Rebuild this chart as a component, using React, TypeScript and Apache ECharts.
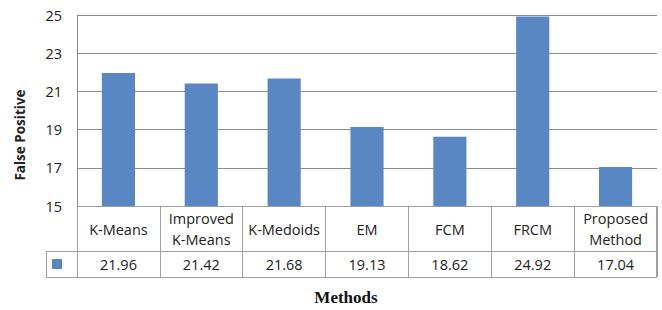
import React, { useEffect, useRef } from "react";
import * as echarts from "echarts";

const categories = ["K-Means", "Improved\nK-Means", "K-Medoids", "EM", "FCM", "FRCM", "Proposed\nMethod"];
const falsePositive = [21.96, 21.42, 21.68, 19.13, 18.62, 24.92, 17.04];
const yTicks = { min: 15, max: 25, interval: 2 };
const yTitle = "False Positive";
const xTitle = "Methods";

const BAR = "#5987C3";
const LINE = "#8C8C8C";
const TABLE = "#A0A0A0";
const FONT = "'Open Sans', 'Noto Sans', sans-serif";
const FS = 14.5;

export default function App() {
  const ref = useRef<HTMLDivElement>(null);
  useEffect(() => {
    if (!ref.current) return;
    const chart = echarts.init(ref.current, null, { renderer: "svg" });
    const L = 77, R = 5, T = 15, B = 206, TB = 277;
    chart.setOption({
      animation: false,
      backgroundColor: "#fff",
      grid: [
        { left: L, right: R, top: T, height: B - T },
        { left: L, right: R, top: B, height: TB - B },
      ],
      xAxis: [
        {
          type: "category",
          gridIndex: 0,
          data: categories,
          axisLine: { show: true, lineStyle: { color: TABLE, width: 1 } },
          axisTick: { show: false },
          axisLabel: {
            margin: 23,
            verticalAlign: "middle",
            lineHeight: 21,
            fontFamily: FONT,
            fontSize: FS,
            color: "#222",
            interval: 0,
          },
        },
        {
          type: "category",
          gridIndex: 0,
          position: "bottom",
          data: falsePositive.map((v) => v.toFixed(2)),
          axisLine: { show: false },
          axisTick: { show: false },
          axisLabel: {
            margin: 58,
            verticalAlign: "middle",
            fontFamily: FONT,
            fontSize: FS,
            color: "#222",
            interval: 0,
          },
        },
        {
          type: "category",
          gridIndex: 1,
          data: categories,
          axisLine: { show: false },
          axisTick: { show: false },
          axisLabel: { show: false },
          splitLine: { show: true, interval: 0, lineStyle: { color: TABLE, width: 1 } },
        },
      ],
      yAxis: [
        {
          type: "value",
          gridIndex: 0,
          min: yTicks.min,
          max: yTicks.max,
          interval: yTicks.interval,
          axisLine: { show: true, lineStyle: { color: LINE } },
          axisTick: { show: false },
          axisLabel: { margin: 15, fontFamily: FONT, fontSize: FS, color: "#222" },
          splitLine: { show: true, lineStyle: { color: LINE, width: 1 } },
        },
        {
          type: "value",
          gridIndex: 1,
          min: 0,
          max: 1,
          show: false,
        },
      ],
      series: [
        {
          type: "bar",
          xAxisIndex: 0,
          yAxisIndex: 0,
          data: falsePositive,
          barWidth: "40%",
          itemStyle: { color: BAR },
        },
      ],
      graphic: [
        { type: "line", shape: { x1: 46, y1: 251.5, x2: 657, y2: 251.5 }, style: { stroke: TABLE, lineWidth: 1 } },
        { type: "line", shape: { x1: 46, y1: 277.5, x2: 657, y2: 277.5 }, style: { stroke: TABLE, lineWidth: 1 } },
        { type: "line", shape: { x1: 46.5, y1: 251, x2: 46.5, y2: 278 }, style: { stroke: TABLE, lineWidth: 1 } },
        { type: "line", shape: { x1: 77.5, y1: 206, x2: 77.5, y2: 278 }, style: { stroke: TABLE, lineWidth: 1 } },
        { type: "line", shape: { x1: 656.5, y1: 206, x2: 656.5, y2: 278 }, style: { stroke: TABLE, lineWidth: 1 } },
        { type: "rect", shape: { x: 52, y: 259, width: 10, height: 10 }, style: { fill: BAR } },
        {
          type: "text",
          x: 20,
          y: 135,
          rotation: Math.PI / 2,
          style: {
            text: yTitle,
            align: "center",
            verticalAlign: "middle",
            font: `bold 13.5px ${FONT}`,
            fill: "#222",
          },
        },
        {
          type: "text",
          x: 346,
          y: 297,
          style: {
            text: xTitle,
            align: "center",
            verticalAlign: "middle",
            font: "bold 17px 'Liberation Serif', 'DejaVu Serif', serif",
            fill: "#111",
          },
        },
      ],
    });
    return () => chart.dispose();
  }, []);
  return <div ref={ref} style={{ width: 662, height: 310, position: "absolute", left: 0, top: 0 }} />;
}
